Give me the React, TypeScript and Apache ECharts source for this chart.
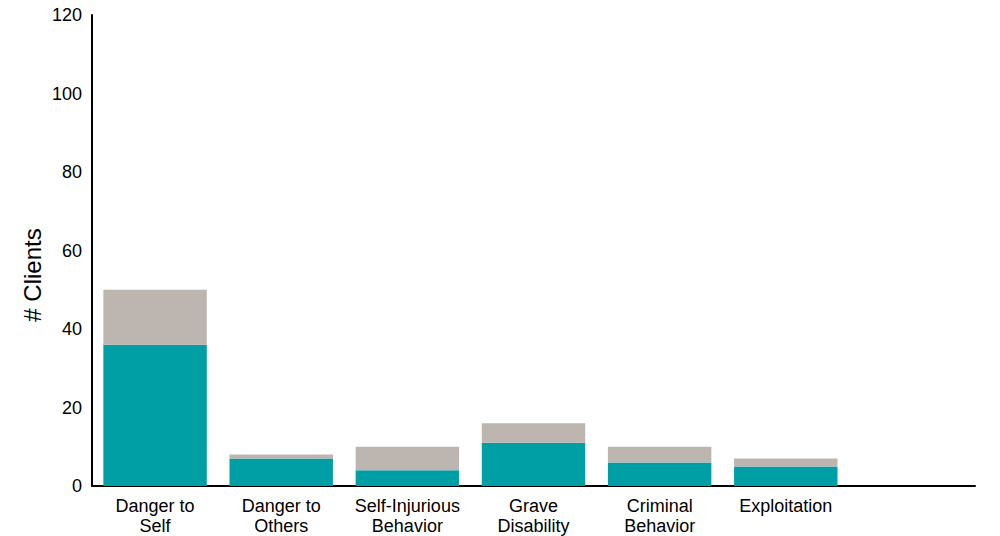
import React, { useEffect, useRef } from "react";
import * as echarts from "echarts";

const categories = [
  "Danger to\nSelf",
  "Danger to\nOthers",
  "Self-Injurious\nBehavior",
  "Grave\nDisability",
  "Criminal\nBehavior",
  "Exploitation",
  "",
];
const tealValues = [36, 7, 4, 11, 6, 5, null];
const greyValues = [14, 1, 6, 5, 4, 2, null];
const yTicks = { min: 0, max: 120, interval: 20 };

export default function App() {
  const ref = useRef<HTMLDivElement>(null);
  useEffect(() => {
    document.body.style.margin = "0";
    const chart = echarts.init(ref.current!, null, { renderer: "svg" });
    chart.setOption({
      animation: false,
      textStyle: { fontFamily: "Liberation Sans, Arial, sans-serif" },
      grid: { left: 92, right: 25, top: 15, bottom: 48, containLabel: false },
      xAxis: {
        type: "category",
        data: categories,
        axisLine: { lineStyle: { color: "#000", width: 2 } },
        axisTick: { show: false },
        axisLabel: {
          color: "#000",
          fontSize: 18,
          lineHeight: 20,
          margin: 10,
          interval: 0,
        },
      },
      yAxis: {
        type: "value",
        min: yTicks.min,
        max: yTicks.max,
        interval: yTicks.interval,
        axisLine: { show: true, lineStyle: { color: "#000", width: 2 } },
        axisTick: { show: false },
        splitLine: { show: false },
        axisLabel: { color: "#000", fontSize: 18, margin: 10 },
      },
      graphic: [
        {
          type: "text",
          x: 32,
          y: 275,
          rotation: Math.PI / 2,
          style: {
            text: "# Clients",
            fontSize: 24,
            fill: "#000",
            align: "center",
            verticalAlign: "middle",
            fontFamily: "Liberation Sans, Arial, sans-serif",
          },
        },
      ],
      series: [
        {
          type: "bar",
          stack: "total",
          data: tealValues,
          barCategoryGap: "18%",
          itemStyle: { color: "#009EA5" },
        },
        {
          type: "bar",
          stack: "total",
          data: greyValues,
          itemStyle: { color: "#BDB5AF" },
        },
      ],
    });
    return () => chart.dispose();
  }, []);
  return <div ref={ref} style={{ width: 1000, height: 536 }} />;
}
